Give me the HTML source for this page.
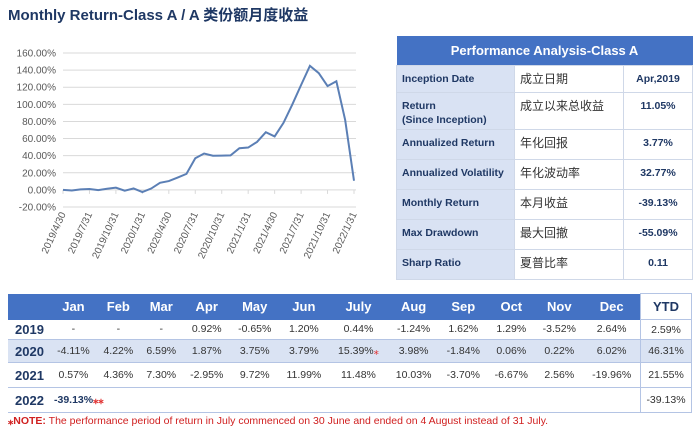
<!DOCTYPE html>
<html><head><meta charset="utf-8"><style>
body{margin:0;width:700px;height:429px;background:#fff;position:relative;overflow:hidden;font-family:"Liberation Sans","Noto Sans CJK SC",sans-serif;}
.abs{position:absolute;}
#title{left:8px;top:4px;font-size:15px;font-weight:bold;color:#1f3864;}
table{border-collapse:collapse;position:absolute;}
#perf{left:396px;top:36px;width:296px;font-size:10.5px;table-layout:fixed;line-height:14px;}
#perf td{border:1px solid #cfd8e8;padding:6px 0 0 5px;vertical-align:top;}
#perf td.c1{background:#d9e2f3;font-weight:bold;color:#1f3864;}
#perf td.c2{color:#333;font-size:12px;}
#perf td.c3{text-align:center;font-weight:bold;color:#1f3864;padding-left:0;}
#perf th{background:#4472c4;color:#fff;font-size:13px;height:27px;}
#mon{left:8px;top:293px;width:684px;font-size:10.5px;color:#333;}
#mon th{background:#4472c4;color:#fff;font-size:13px;height:23px;font-weight:bold;}
#mon th.ytd{background:#fff;color:#1f3864;border:1px solid #b4c4e4;}
#mon td{text-align:center;border-bottom:1px solid #b4c4e4;padding:0;}
#mon td.yr{text-align:left;padding-left:7px;font-size:13px;font-weight:bold;color:#1f3864;}
#mon td.y{border-left:1px solid #b4c4e4;border-right:1px solid #b4c4e4;}
#mon tr.alt td{background:#dae3f3;}
.r{color:#e03030;}
#note{left:8px;top:415px;font-size:10.5px;color:#d02020;}
</style></head><body>
<div id="title" class="abs">Monthly Return-Class A / A 类份额月度收益</div>
<svg id="chart" class="abs" style="left:0;top:30px" width="380" height="245"></svg>

<table id="perf">
<colgroup><col style="width:118px"><col style="width:109px"><col style="width:69px"></colgroup>
<tr><th colspan="3">Performance Analysis-Class A</th></tr>
<tr style="height:27px"><td class="c1">Inception Date</td><td class="c2">成立日期</td><td class="c3">Apr,2019</td></tr>
<tr style="height:37px"><td class="c1">Return<br>(Since Inception)</td><td class="c2">成立以来总收益</td><td class="c3">11.05%</td></tr>
<tr style="height:30px"><td class="c1">Annualized Return</td><td class="c2">年化回报</td><td class="c3">3.77%</td></tr>
<tr style="height:30px"><td class="c1" style="white-space:nowrap">Annualized Volatility</td><td class="c2">年化波动率</td><td class="c3">32.77%</td></tr>
<tr style="height:30px"><td class="c1">Monthly Return</td><td class="c2">本月收益</td><td class="c3">-39.13%</td></tr>
<tr style="height:30px"><td class="c1">Max Drawdown</td><td class="c2">最大回撤</td><td class="c3">-55.09%</td></tr>
<tr style="height:30px"><td class="c1">Sharp Ratio</td><td class="c2">夏普比率</td><td class="c3">0.11</td></tr>
</table>

<table id="mon">
<tr><th style="width:40px"></th><th>Jan</th><th>Feb</th><th>Mar</th><th>Apr</th><th>May</th><th>Jun</th><th>July</th><th>Aug</th><th>Sep</th><th>Oct</th><th>Nov</th><th>Dec</th><th class="ytd" style="width:48px">YTD</th></tr>
<tr style="height:20px"><td class="yr">2019</td><td>-</td><td>-</td><td>-</td><td>0.92%</td><td>-0.65%</td><td>1.20%</td><td>0.44%</td><td>-1.24%</td><td>1.62%</td><td>1.29%</td><td>-3.52%</td><td>2.64%</td><td class="y">2.59%</td></tr>
<tr class="alt" style="height:23px"><td class="yr">2020</td><td>-4.11%</td><td>4.22%</td><td>6.59%</td><td>1.87%</td><td>3.75%</td><td>3.79%</td><td>15.39%<span class="r">⁎</span></td><td>3.98%</td><td>-1.84%</td><td>0.06%</td><td>0.22%</td><td>6.02%</td><td class="y">46.31%</td></tr>
<tr style="height:25px"><td class="yr">2021</td><td>0.57%</td><td>4.36%</td><td>7.30%</td><td>-2.95%</td><td>9.72%</td><td>11.99%</td><td>11.48%</td><td>10.03%</td><td>-3.70%</td><td>-6.67%</td><td>2.56%</td><td>-19.96%</td><td class="y">21.55%</td></tr>
<tr style="height:25px"><td class="yr">2022</td><td colspan="2" style="text-align:left;padding-left:4px;font-weight:bold;color:#1f3864">-39.13%<span class="r">⁎⁎</span></td><td colspan="10"></td><td class="y">-39.13%</td></tr>
</table>
<div id="note" class="abs"><b>⁎NOTE:</b> The performance period of return in July commenced on 30 June and ended on 4 August instead of 31 July.</div>

<script>
const values=[0,-0.65,0.54,0.98,-0.27,1.34,2.65,-0.96,1.65,-2.53,1.58,8.27,10.3,14.4,18.7,37.0,42.5,39.9,40.0,40.3,48.7,49.5,56.0,67.4,62.5,78.3,99.7,122.6,145.0,136.5,121.3,127.0,81.6,10.7];
const yTicks=[-20,0,20,40,60,80,100,120,140,160];
const xLabels=["2019/4/30","2019/7/31","2019/10/31","2020/1/31","2020/4/30","2020/7/31","2020/10/31","2021/1/31","2021/4/30","2021/7/31","2021/10/31","2022/1/31"];
const svg=document.getElementById('chart');
const NS='http://www.w3.org/2000/svg';
const x0=63,x1=354,yTop=23,yBot=177;
const xs=i=>x0+(x1-x0)*i/(values.length-1);
const ys=v=>yBot-(v+20)/180*(yBot-yTop);
function mk(t,a){const e=document.createElementNS(NS,t);for(const k in a)e.setAttribute(k,a[k]);svg.appendChild(e);return e;}
yTicks.forEach(t=>{
 const g=mk('line',{x1:x0,x2:x1+2,y1:ys(t),y2:ys(t),stroke:'#d9d9d9','stroke-width':1});
 
 
 const l=mk('text',{x:x0-7,y:ys(t)+3.5,'text-anchor':'end','font-size':10,fill:'#595959','font-family':'Liberation Sans'});
 l.textContent=t.toFixed(2)+'%';
 
 
});
xLabels.forEach((s,k)=>{
 const x=xs(k*3),y=ys(0);
 const tk=mk('line',{x1:x,x2:x,y1:y,y2:y+4,stroke:'#d9d9d9'});
 
 
 const l=mk('text',{x:x+3,y:yBot+7,'text-anchor':'end','font-size':10,fill:'#595959','font-family':'Liberation Sans',transform:`rotate(-65 ${x+3} ${yBot+7})`});
 l.textContent=s;
 
 
});
const p=mk('polyline',{points:values.map((v,i)=>xs(i)+','+ys(v)).join(' '),fill:'none',stroke:'#5b7fb5','stroke-width':2});


</script>
</body></html>
